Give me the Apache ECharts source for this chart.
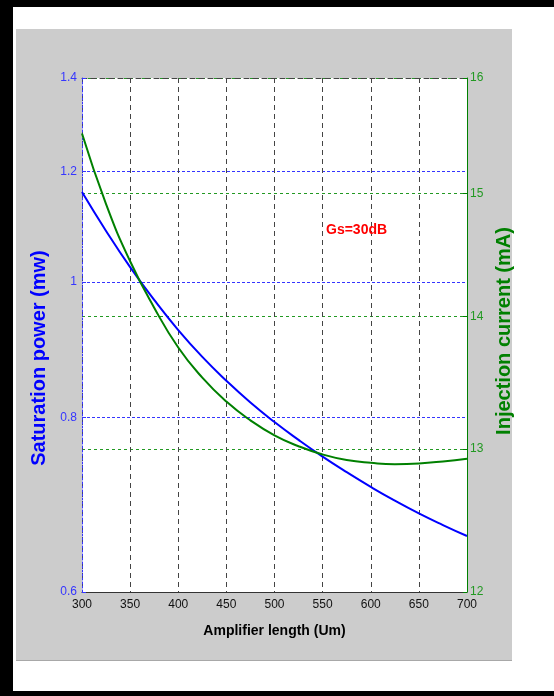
<!DOCTYPE html>
<html><head><meta charset="utf-8">
<script src="https://cdn.jsdelivr.net/npm/echarts@6/dist/echarts.min.js"></script>
<style>
html,body{margin:0;padding:0;background:#fff;}
#wrap{position:relative;width:554px;height:696px;overflow:hidden;background:#fff;}
.blk{position:absolute;background:#000;}
#gray{position:absolute;left:16px;top:29px;width:496px;height:631px;background:#cccccc;border-bottom:1px solid #a8a8a8;}
#chart{position:absolute;left:0;top:0;width:554px;height:696px;}
</style></head>
<body><div id="wrap">
<div class="blk" style="left:0;top:0;width:554px;height:7px"></div>
<div class="blk" style="left:0;top:0;width:13px;height:696px"></div>
<div class="blk" style="left:0;top:691px;width:554px;height:5px"></div>
<div id="gray"></div>
<div id="chart"></div>
</div>
<script>
// Amplifier length (Um)
const lengths = [300, 325, 350, 375, 400, 425, 450, 475, 500, 525, 550, 575, 600, 625, 650, 675, 700];
// Saturation power (mw) - left axis
const saturationPower = [1.160, 1.088, 1.025, 0.971, 0.924, 0.884, 0.850, 0.820, 0.794, 0.771, 0.750, 0.731, 0.7135, 0.6975, 0.683, 0.6700, 0.658];
// Injection current (mA) - right axis
const injectionCurrent = [15.51, 14.91, 14.44, 14.07, 13.76, 13.53, 13.35, 13.21, 13.10, 13.02, 12.96, 12.92, 12.90, 12.89, 12.895, 12.91, 12.93];
// Tick labels
const powerTicks = [0.6, 0.8, 1, 1.2, 1.4];
const currentTicks = [12, 13, 14, 15, 16];
const annotationText = 'Gs=30dB';

const chart = echarts.init(document.getElementById('chart'), null, {renderer: 'canvas'});
const FONT = '"Liberation Sans", Arial, sans-serif';
const BLUE = '#0000ff';
const BLUE_L = '#3535ff';
const GREEN = '#008000';
const GREEN_L = '#229922';

const option = {
  animation: false,
  backgroundColor: 'transparent',
  grid: {left: 82, right: 87, top: 78, bottom: 104, show: true, backgroundColor: '#ffffff', borderWidth: 0},
  xAxis: [
    {
      type: 'value', min: 300, max: 700, interval: 50, position: 'bottom',
      axisLine: {show: true, onZero: false, lineStyle: {color: '#333333', width: 1}},
      axisTick: {show: false},
      axisLabel: {color: '#111111', fontSize: 12, fontFamily: FONT, margin: 7},
      splitLine: {show: true, lineStyle: {color: '#444444', type: [5, 4], width: 1}},
      name: 'Amplifier length (Um)', nameLocation: 'middle', nameGap: 32,
      nameTextStyle: {color: '#000000', fontSize: 14, fontWeight: 'bold', fontFamily: FONT}
    },
    {
      type: 'value', min: 300, max: 700, interval: 50, position: 'top',
      axisLine: {show: true, onZero: false, lineStyle: {color: '#444444', type: [5, 4], width: 1}},
      axisTick: {show: false}, axisLabel: {show: false}, splitLine: {show: false}
    }
  ],
  yAxis: [
    {
      type: 'log', logBase: 10, min: 0.6, max: 1.4, position: 'left',
      axisLine: {show: true, onZero: false, lineStyle: {color: BLUE_L, type: [2, 2], width: 1}},
      axisTick: {show: true, inside: true, length: 4, customValues: powerTicks, lineStyle: {color: BLUE_L}},
      axisLabel: {customValues: powerTicks, color: BLUE_L, fontSize: 12, fontFamily: FONT, margin: 5,
        formatter: v => String(+(+v).toFixed(2))},
      splitLine: {show: true, showMinLine: false, showMaxLine: false, lineStyle: {color: BLUE_L, type: [3, 2], width: 1}},
      name: 'Saturation power (mw)', nameLocation: 'middle', nameGap: 27,
      nameTextStyle: {color: BLUE, fontSize: 20, fontWeight: 'bold', fontFamily: FONT, padding: [0, 46, 0, 0]}
    },
    {
      type: 'log', logBase: 10, min: 12, max: 16, position: 'right',
      axisLine: {show: true, onZero: false, lineStyle: {color: GREEN, width: 1}},
      axisTick: {show: true, inside: true, length: 4, customValues: currentTicks, lineStyle: {color: GREEN}},
      axisLabel: {customValues: currentTicks, color: GREEN_L, fontSize: 12, fontFamily: FONT, margin: 3,
        formatter: v => String(Math.round(v))},
      splitLine: {show: true, showMinLine: false, showMaxLine: true, lineStyle: {color: GREEN_L, type: [3, 3], width: 1}},
      name: 'Injection current (mA)', nameLocation: 'middle', nameGap: 15,
      nameTextStyle: {color: GREEN, fontSize: 20, fontWeight: 'bold', fontFamily: FONT, padding: [0, 0, 0, 8]}
    }
  ],
  graphic: [{
    type: 'text', left: 326, top: 223, z: 10,
    style: {text: annotationText, fill: '#ff0000', font: 'bold 14px "Liberation Sans", Arial, sans-serif'}
  }],
  series: [
    {
      type: 'line', name: 'Saturation power', xAxisIndex: 0, yAxisIndex: 0,
      data: lengths.map((l, i) => [l, saturationPower[i]]),
      smooth: true, symbol: 'none', color: BLUE, z: 3,
      lineStyle: {color: BLUE, width: 2}
    },
    {
      type: 'line', name: 'Injection current', xAxisIndex: 0, yAxisIndex: 1,
      data: lengths.map((l, i) => [l, injectionCurrent[i]]),
      smooth: true, symbol: 'none', color: GREEN, z: 4,
      lineStyle: {color: GREEN, width: 2}
    }
  ]
};
chart.setOption(option);
</script>
</body></html>
